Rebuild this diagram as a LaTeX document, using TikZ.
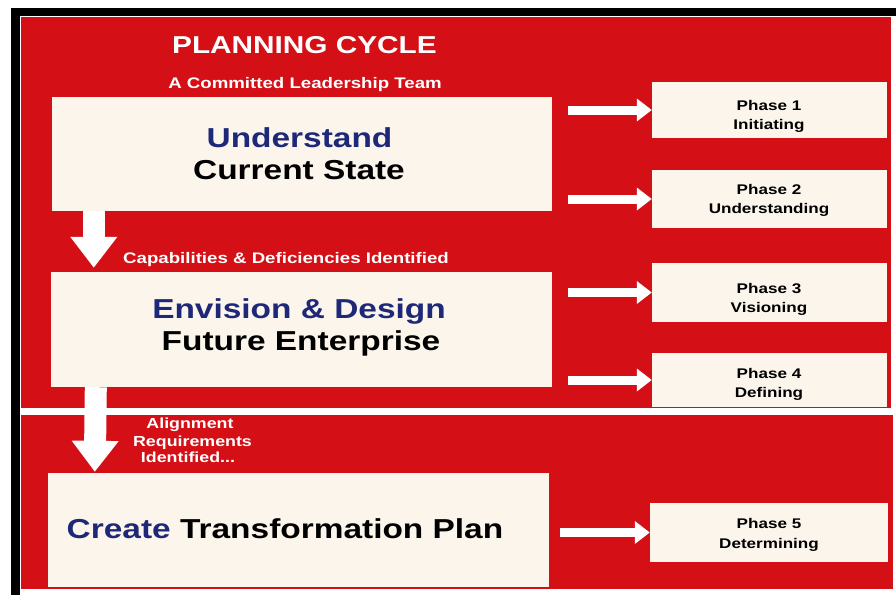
\documentclass[tikz,border=0pt]{standalone}
\usepackage{fontspec}
\setmainfont{Liberation Sans}[FakeStretch=1.22]
\usetikzlibrary{arrows.meta,calc}
\definecolor{bgred}{HTML}{D40F16}
\definecolor{cream}{HTML}{FCF5EB}
\definecolor{navy}{HTML}{1E2878}
\tikzset{
  cbox/.style={draw=none, fill=cream, inner sep=0pt, minimum width=#1},
  cbox/.default=500,
  txt/.style={anchor=base, inner sep=0pt, font=\bfseries},
  bigtxt/.style={txt, font=\bfseries\fontsize{27.4}{32}\selectfont},
  redtxt/.style={txt, text=white, font=\bfseries\fontsize{15.3}{18}\selectfont},
  phtxt/.style={txt, text=black, font=\bfseries\fontsize{14}{18}\selectfont},
  harrow/.style={draw=white, line width=9pt, -{Triangle[length=15pt,width=22pt,fill=white]}},
  varrow/.style={draw=white, line width=22pt, -{Triangle[length=31pt,width=45pt,fill=white]}}
}
\begin{document}
\begin{tikzpicture}[x=1pt,y=-1pt]
\useasboundingbox (0,0) rectangle (896,595);
\fill[white] (0,0) rectangle (896,595);
% black frame
\fill[black] (11,8) rectangle (896,16);
\fill[black] (11,8) rectangle (20,595);
% red panels
\fill[bgred] (21,17) rectangle (891,408);
\fill[bgred] (21,415) rectangle (893,589);
% main boxes
\node[cbox=500, minimum height=114] (b1) at (302,154) {};
\node[cbox=501, minimum height=115] (b2) at (301.5,329.5) {};
\node[cbox=501, minimum height=114] (b3) at (298.5,530) {};
% phase boxes
\node[cbox=235, minimum height=56] (p1) at (769.5,110) {};
\node[cbox=235, minimum height=58] (p2) at (769.5,199) {};
\node[cbox=235, minimum height=59] (p3) at (769.5,292.5) {};
\node[cbox=235, minimum height=54] (p4) at (769.5,380) {};
\node[cbox=238, minimum height=59] (p5) at (769,532.5) {};
% down arrows
\draw[varrow] ([xshift=42pt]b1.south west) -- ([xshift=43pt,yshift=4pt]b2.north west);
\draw[varrow] ([xshift=45pt]b2.south west) -- ([xshift=47pt,yshift=1pt]b3.north west);
% right arrows
\draw[harrow] (p1.west) ++(-84,0) -- (p1.west);
\draw[harrow] (p2.west) ++(-84,0) -- (p2.west);
\draw[harrow] (p3.west) ++(-84,0) -- (p3.west);
\draw[harrow] (p4.west) ++(-84,0) -- (p4.west);
\draw[harrow] (p5.west) ++(-90,0) -- (p5.west);
% texts
\node[txt, text=white, font=\bfseries\fontsize{24.4}{28}\selectfont] (title) at (304.5,53) {PLANNING CYCLE};
\node[redtxt] (lead) at (305,88) {A Committed Leadership Team};
\node[bigtxt, text=navy] (u1) at (299.5,147) {Understand};
\node[bigtxt, text=black] (u2) at (299,179) {Current State};
\node[redtxt] (cap) at (286,263) {Capabilities \& Deficiencies Identified};
\node[bigtxt, text=navy] (e1) at (299,318) {Envision \& Design};
\node[bigtxt, text=black] (e2) at (301,350) {Future Enterprise};
\node[redtxt, font=\bfseries\fontsize{14.6}{17}\selectfont] (al1) at (190,428) {Alignment};
\node[redtxt, font=\bfseries\fontsize{14.6}{17}\selectfont] (al2) at (192.5,446) {Requirements};
\node[redtxt, font=\bfseries\fontsize{14.6}{17}\selectfont] (al3) at (188,462) {Identified...};
\node[bigtxt, text=black] (ct) at (285,538) {\textcolor{navy}{Create} Transformation Plan};
\node[phtxt] (p1a) at (769,110) {Phase 1};
\node[phtxt] (p1b) at (769,129) {Initiating};
\node[phtxt] (p2a) at (769,194) {Phase 2};
\node[phtxt] (p2b) at (769,213) {Understanding};
\node[phtxt] (p3a) at (769,293) {Phase 3};
\node[phtxt] (p3b) at (769,312) {Visioning};
\node[phtxt] (p4a) at (769,378) {Phase 4};
\node[phtxt] (p4b) at (769,397) {Defining};
\node[phtxt] (p5a) at (769,528) {Phase 5};
\node[phtxt] (p5b) at (769,548) {Determining};
\end{tikzpicture}
\end{document}
